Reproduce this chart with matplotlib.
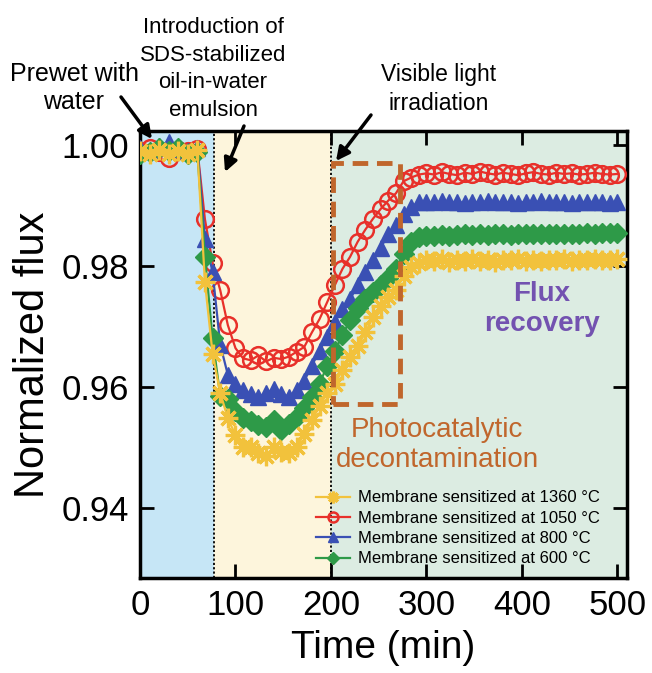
import matplotlib
matplotlib.use("Agg")
import matplotlib.pyplot as plt
from matplotlib.patches import Rectangle, FancyArrowPatch

plt.rcParams['font.family'] = ['Liberation Sans', 'DejaVu Sans']

# ---------------- data ----------------
time_min = [0, 10, 20, 30, 40, 50, 60,
            68, 76, 84, 92, 100, 108, 116, 124, 132, 140, 148, 156, 164, 172, 180, 188, 196,
            204, 212, 220, 228, 236, 244, 252, 260, 268, 276, 284, 292, 300,
            308, 316, 324, 332, 340, 348, 356, 364, 372, 380, 388, 396, 404, 412, 420,
            428, 436, 444, 452, 460, 468, 476, 484, 492, 500]

flux_1050 = [0.9990, 0.9995, 0.9988, 0.9978, 0.9992, 0.9990, 0.9994,
             0.9877, 0.9805, 0.9760, 0.9702, 0.9664, 0.9647, 0.9644, 0.9652, 0.9642, 0.9648, 0.9646, 0.9650, 0.9658, 0.9666, 0.9690, 0.9712, 0.9740,
             0.9768, 0.9795, 0.9815, 0.9840, 0.9860, 0.9878, 0.9894, 0.9908, 0.9920, 0.9940, 0.9946, 0.9951, 0.9953,
             0.9951, 0.9955, 0.9952, 0.9950, 0.9954, 0.9952, 0.9956, 0.9953, 0.9951, 0.9954, 0.9952, 0.9950, 0.9953, 0.9955, 0.9952,
             0.9951, 0.9954, 0.9952, 0.9953, 0.9951, 0.9952, 0.9954, 0.9952, 0.9951, 0.9952]

flux_800 = [0.9995, 0.9990, 0.9998, 1.0005, 0.9993, 0.9990, 0.9995,
            0.9845, 0.9790, 0.9670, 0.9620, 0.9605, 0.9595, 0.9588, 0.9583, 0.9590, 0.9596, 0.9588, 0.9584, 0.9595, 0.9610, 0.9635, 0.9660, 0.9683,
            0.9708, 0.9728, 0.9745, 0.9768, 0.9790, 0.9810, 0.9830, 0.9852, 0.9868, 0.9885, 0.9898, 0.9905, 0.9906,
            0.9905, 0.9907, 0.9905, 0.9906, 0.9904, 0.9906, 0.9905, 0.9907, 0.9905, 0.9906, 0.9905, 0.9904, 0.9906, 0.9905, 0.9907,
            0.9905, 0.9906, 0.9905, 0.9904, 0.9906, 0.9905, 0.9906, 0.9905, 0.9904, 0.9905]

flux_600 = [0.9985, 0.9988, 0.9995, 0.9990, 0.9995, 0.9985, 0.9988,
            0.9815, 0.9680, 0.9585, 0.9580, 0.9560, 0.9548, 0.9543, 0.9537, 0.9533, 0.9545, 0.9528, 0.9538, 0.9550, 0.9565, 0.9583, 0.9605, 0.9635,
            0.9659, 0.9686, 0.9710, 0.9730, 0.9745, 0.9757, 0.9768, 0.9780, 0.9795, 0.9820, 0.9840, 0.9848, 0.9850,
            0.9850, 0.9851, 0.9850, 0.9851, 0.9852, 0.9851, 0.9852, 0.9851, 0.9852, 0.9852, 0.9851, 0.9852, 0.9853, 0.9852, 0.9853,
            0.9852, 0.9853, 0.9853, 0.9852, 0.9853, 0.9854, 0.9853, 0.9854, 0.9854, 0.9854]

flux_1360 = [0.9990, 0.9985, 0.9992, 0.9985, 0.9990, 0.9985, 0.9992,
             0.9773, 0.9655, 0.9590, 0.9548, 0.9520, 0.9500, 0.9500, 0.9490, 0.9485, 0.9500, 0.9492, 0.9490, 0.9500, 0.9522, 0.9545, 0.9568, 0.9590,
             0.9605, 0.9628, 0.9650, 0.9667, 0.9690, 0.9715, 0.9733, 0.9748, 0.9760, 0.9783, 0.9798, 0.9805, 0.9810,
             0.9808, 0.9811, 0.9807, 0.9810, 0.9808, 0.9811, 0.9808, 0.9810, 0.9807, 0.9810, 0.9809, 0.9811, 0.9808, 0.9810, 0.9808,
             0.9810, 0.9809, 0.9811, 0.9808, 0.9810, 0.9809, 0.9811, 0.9809, 0.9810, 0.9811]

labels = ['Membrane sensitized at 1360 °C', 'Membrane sensitized at 1050 °C',
          'Membrane sensitized at 800 °C', 'Membrane sensitized at 600 °C']

x_ticks = [0, 100, 200, 300, 400, 500]
y_ticks = [0.94, 0.96, 0.98, 1.00]
y_tick_labels = ['0.94', '0.96', '0.98', '1.00']

stage_edges = [78, 200]
box_t = [202, 272]
box_f = [0.9571, 0.9970]

# ---------------- figure ----------------
W, H = 652, 673
fig = plt.figure(figsize=(W / 100, H / 100), dpi=100)
L, R, T, B = 140, 627, 131, 578
ax = fig.add_axes([L / W, 1 - B / H, (R - L) / W, (B - T) / H])
ax.set_xlim(0, 510)
ax.set_ylim(0.9284, 1.0023)

ax.axvspan(-10, stage_edges[0], color='#c6e6f6', zorder=0, lw=0)
ax.axvspan(stage_edges[0], stage_edges[1], color='#fdf5dc', zorder=0, lw=0)
ax.axvspan(stage_edges[1], 600, color='#dcece2', zorder=0, lw=0)
for xe in stage_edges:
    ax.axvline(xe, color='k', ls=(0, (1.2, 1.2)), lw=1.3, zorder=1)

red, blue, green, yellow = '#e8302a', '#3a50b4', '#2e9a48', '#f2c23c'
l_red, = ax.plot(time_min, flux_1050, color=red, lw=1.6, marker='o', ms=12,
                 mfc='none', mec=red, mew=1.8, zorder=3)
l_blue, = ax.plot(time_min, flux_800, color=blue, lw=1.6, marker='^', ms=12,
                  mfc=blue, mec=blue, zorder=4)
l_green, = ax.plot(time_min, flux_600, color=green, lw=1.6, marker='D', ms=10.5,
                   mfc=green, mec=green, zorder=5)
l_yel, = ax.plot(time_min, flux_1360, color=yellow, lw=1.6, marker=(8, 2, 0), ms=14,
                 mfc=yellow, mec=yellow, mew=2.3, zorder=6)

ax.add_patch(Rectangle((box_t[0], box_f[0]), box_t[1] - box_t[0], box_f[1] - box_f[0],
                       fill=False, ec='#c0662c', lw=3.5, ls=(0, (3.2, 1.8)), zorder=7))

ax.set_xticks(x_ticks)
ax.set_yticks(y_ticks)
ax.set_yticklabels(y_tick_labels)
ax.tick_params(direction='in', length=10, width=2, labelsize=25, top=True, right=True, pad=8)
for s in ax.spines.values():
    s.set_linewidth(2.5)
ax.set_xlabel('Time (min)', fontsize=28, labelpad=6)
ax.set_ylabel('Normalized flux', fontsize=30, labelpad=6)

leg = ax.legend([l_yel, l_red, l_blue, l_green], labels, loc='upper left',
                bbox_to_anchor=(0.362, 0.196), frameon=False, fontsize=12,
                markerscale=0.6, handlelength=2.0, handletextpad=0.5,
                labelspacing=0.32, borderpad=0, borderaxespad=0)

# ---------------- annotations ----------------
def fx(px):
    return px / W

def fy(py):
    return 1 - py / H

fig.text(fx(74), fy(88), 'Prewet with\nwater', ha='center', va='center', fontsize=18, linespacing=1.25)
fig.text(fx(213), fy(69), 'Introduction of\nSDS-stabilized\noil-in-water\nemulsion',
         ha='center', va='center', fontsize=16, linespacing=1.42)
fig.text(fx(439), fy(89), 'Visible light\nirradiation', ha='center', va='center', fontsize=16.5,
         linespacing=1.3)
fig.text(fx(437), fy(445), 'Photocatalytic\ndecontamination', ha='center', va='center',
         fontsize=20, color='#c0662c')
fig.text(fx(542), fy(309), 'Flux\nrecovery', ha='center', va='center', fontsize=20,
         color='#7352b0', fontweight='bold')

arrow = dict(arrowstyle='-|>', lw=2.5, color='k', mutation_scale=20, shrinkA=0, shrinkB=0)
for (x0, y0), (x1, y1) in [((121, 97), (152, 139)), ((244, 126), (225, 172)), ((371, 115), (336, 161))]:
    fig.add_artist(FancyArrowPatch((fx(x0), fy(y0)), (fx(x1), fy(y1)),
                   transform=fig.transFigure, **arrow))

fig.savefig('out.png', dpi=100)
